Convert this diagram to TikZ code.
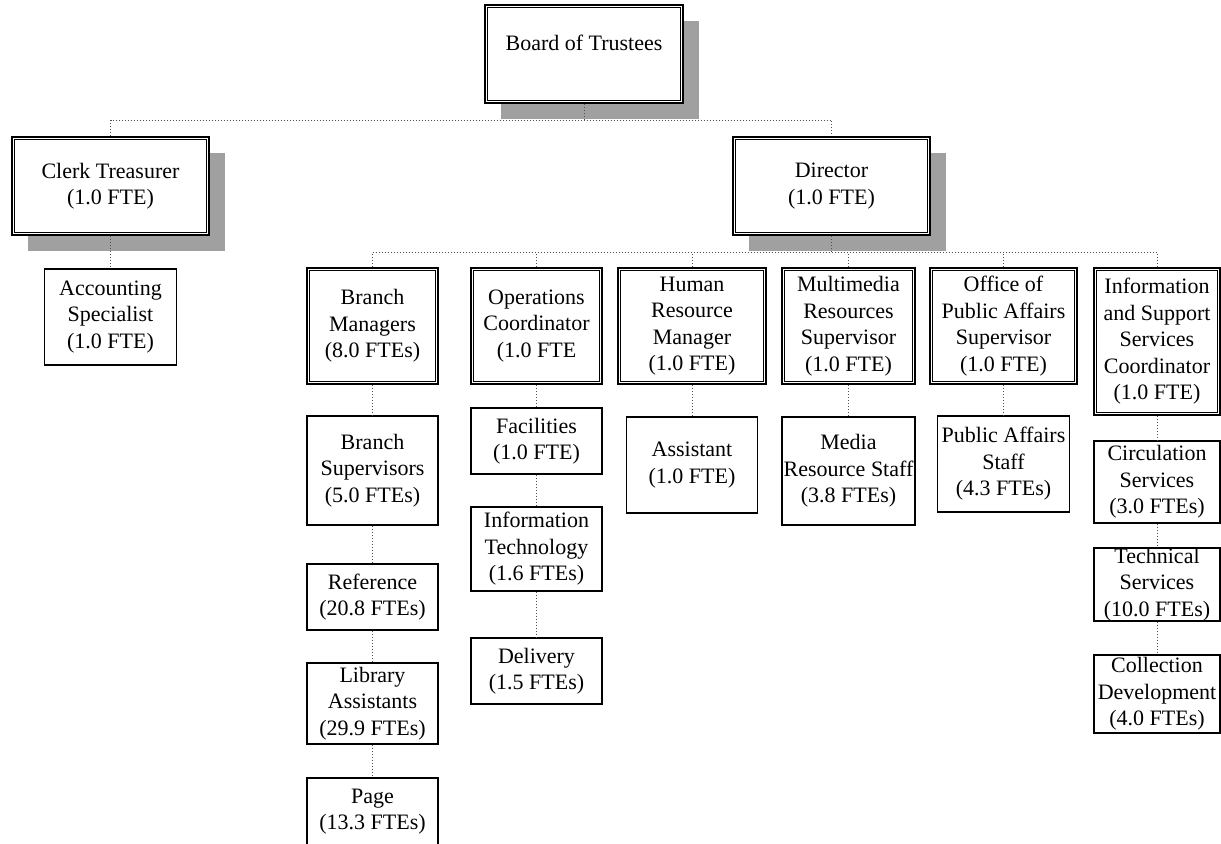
\documentclass[tikz,border=0pt]{standalone}
\usepackage{fontspec}
\setmainfont{Liberation Serif}
\usepackage{tikz}
\usetikzlibrary{shadows}
\definecolor{linkcolor}{HTML}{505050}
\definecolor{shadecolor}{HTML}{A0A0A0}

\begin{document}
\begin{tikzpicture}[x=0.5pt,y=-0.5pt,
  box/.style={draw=black,line width=0.6pt,fill=white,inner sep=0pt,align=center,
    font=\fontsize{11}{13.25}\selectfont},
  dbox/.style={box,line width=1.2pt},
  shade/.style={drop shadow={shadow xshift=8pt,shadow yshift=-8pt,fill=shadecolor,opacity=1}},
  link/.style={draw=linkcolor,line width=0.5pt,densely dotted}]
\useasboundingbox (0,0) rectangle (1221,843);
% top level
\node[dbox,shade,minimum width=99pt,minimum height=49pt,text height=6pt,text depth=10pt] (trustees) at (584,54) {Board of Trustees};
\node[dbox,shade,minimum width=98.5pt,minimum height=49pt] (clerk) at (110.5,186) {Clerk Treasurer\\(1.0 FTE)};
\node[dbox,shade,minimum width=98.5pt,minimum height=49pt] (director) at (831.5,186) {Director\\(1.0 FTE)};
\node[box,minimum width=66pt,minimum height=48pt] (accounting) at (110.5,317) {Accounting\\Specialist\\(1.0 FTE)};
% department heads
\node[dbox,minimum width=65.5pt,minimum height=58pt] (branchmgr) at (372.5,326) {Branch\\Managers\\(8.0 FTEs)};
\node[dbox,minimum width=65.5pt,minimum height=58pt] (opscoord) at (536.5,326) {Operations\\Coordinator\\(1.0 FTE};
\node[dbox,minimum width=74pt,minimum height=58pt] (hrmgr) at (692,326) {Human\\Resource\\Manager\\(1.0 FTE)};
\node[dbox,minimum width=66.5pt,minimum height=58pt] (mmsuper) at (848.5,326) {Multimedia\\Resources\\Supervisor\\(1.0 FTE)};
\node[dbox,minimum width=73.5pt,minimum height=58pt] (pasuper) at (1003.5,326) {Office of\\Public Affairs\\Supervisor\\(1.0 FTE)};
\node[dbox,minimum width=63pt,minimum height=73.5pt] (issc) at (1157,341.5) {Information\\and Support\\Services\\Coordinator\\(1.0 FTE)};
% staff
\node[box,minimum width=65.5pt,minimum height=54.5pt] (branchsup) at (372.5,470.5) {Branch\\Supervisors\\(5.0 FTEs)};
\node[box,minimum width=65.5pt,minimum height=33pt] (reference) at (372.5,597) {Reference\\(20.8 FTEs)};
\node[box,minimum width=65.5pt,minimum height=40.5pt] (libasst) at (372.5,703.5) {Library\\Assistants\\(29.9 FTEs)};
\node[box,minimum width=65.5pt,minimum height=33.5pt] (page) at (372.5,811.5) {Page\\(13.3 FTEs)};
\node[box,minimum width=65.5pt,minimum height=33pt] (facilities) at (536.5,441) {Facilities\\(1.0 FTE)};
\node[box,minimum width=65.5pt,minimum height=42pt] (infotech) at (536.5,549) {Information\\Technology\\(1.6 FTEs)};
\node[box,minimum width=65.5pt,minimum height=33pt] (delivery) at (536.5,671) {Delivery\\(1.5 FTEs)};
\node[box,minimum width=65.5pt,minimum height=48pt] (assistant) at (692,465) {Assistant\\(1.0 FTE)};
\node[box,minimum width=66.5pt,minimum height=54pt] (mediastaff) at (848.5,471) {Media\\Resource Staff\\(3.8 FTEs)};
\node[box,minimum width=66pt,minimum height=48pt] (pastaff) at (1003.5,464) {Public Affairs\\Staff\\(4.3 FTEs)};
\node[box,minimum width=63pt,minimum height=41pt] (circulation) at (1157,482) {Circulation\\Services\\(3.0 FTEs)};
\node[box,minimum width=63pt,minimum height=36.5pt] (technical) at (1157,584.5) {Technical\\Services\\(10.0 FTEs)};
\node[box,minimum width=63pt,minimum height=39pt] (collection) at (1157,694) {Collection\\Development\\(4.0 FTEs)};
% inner frames
\foreach \n in {trustees,clerk,director,branchmgr,opscoord,hrmgr,mmsuper,pasuper,issc}
  \draw[line width=0.5pt] ([shift={(2pt,-2pt)}]\n.north west) rectangle ([shift={(-2pt,2pt)}]\n.south east);
% connectors
\coordinate (bus1) at (0,120);
\coordinate (bus2) at (0,252);
\draw[link] (trustees.south) -- (trustees.south |- bus1);
\draw[link] (clerk.north) -- (clerk.north |- bus1) -- (director.north |- bus1) -- (director.north);
\draw[link] (director.south) -- (director.south |- bus2);
\draw[link] (branchmgr.north |- bus2) -- (issc.north |- bus2);
\foreach \n in {branchmgr,opscoord,hrmgr,mmsuper,pasuper,issc}
  \draw[link] (\n.north) -- (\n.north |- bus2);
\foreach \a/\b in {clerk/accounting,branchmgr/branchsup,branchsup/reference,reference/libasst,
    libasst/page,opscoord/facilities,facilities/infotech,infotech/delivery,hrmgr/assistant,
    mmsuper/mediastaff,pasuper/pastaff,issc/circulation,circulation/technical,technical/collection}
  \draw[link] (\a) -- (\b);
\end{tikzpicture}
\end{document}
